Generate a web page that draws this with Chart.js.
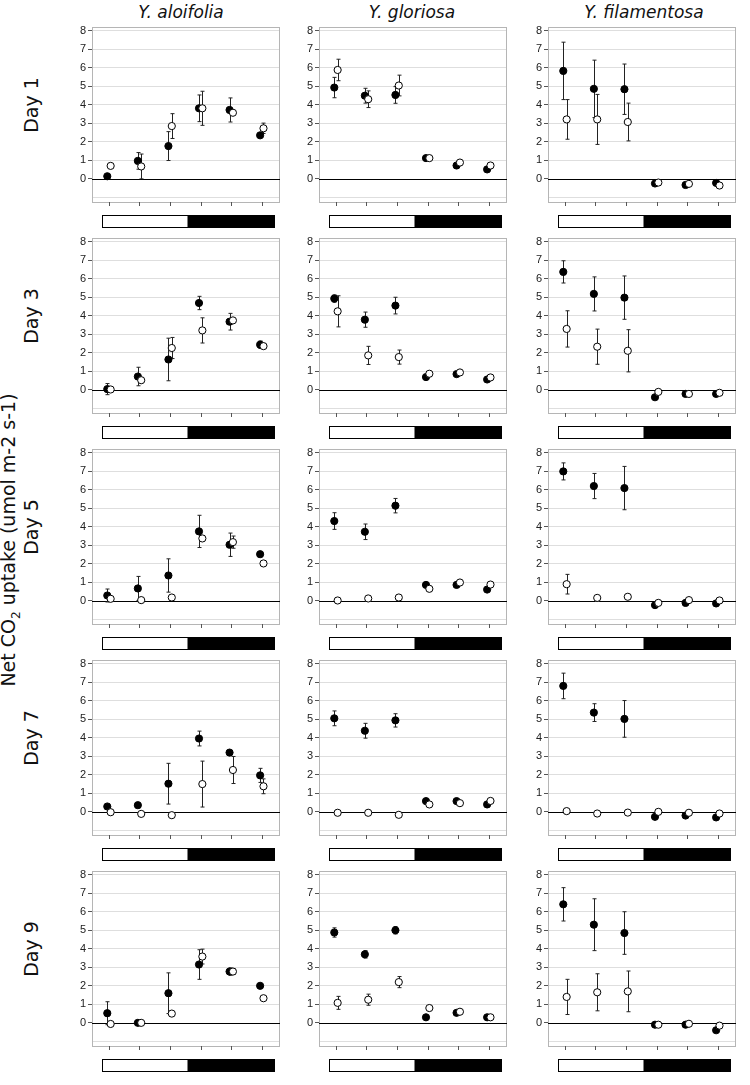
<!DOCTYPE html>
<html>
<head>
<meta charset="utf-8">
<script src="https://cdn.jsdelivr.net/npm/chart.js@4.4.1/dist/chart.umd.min.js"></script>
<style>
  body { margin: 0; background: #fff; }
  #wrap { position: relative; width: 750px; height: 1085px; overflow: hidden; font-family: "DejaVu Sans", Verdana, sans-serif; }
  canvas { position: absolute; }
  .lbl { position: absolute; white-space: nowrap; color: #111; }
  .rot { transform: translate(-50%, -50%) rotate(-90deg); }
  .ttl { transform: translate(-50%, 0); font-style: italic; font-size: 17px; }
</style>
</head>
<body>
<div id="wrap"></div>
<script>
// ---- data ----
const species = ['Y. aloifolia', 'Y. gloriosa', 'Y. filamentosa'];
const days = ['Day 1', 'Day 3', 'Day 5', 'Day 7', 'Day 9'];
const timePoints = [1, 2, 3, 4, 5, 6];
const yTicks = [0, 1, 2, 3, 4, 5, 6, 7, 8];

// filled circles = one treatment, open circles = the other. rows = days
const aloFilled = [
  [0.14, 0.97, 1.77, 3.81, 3.72, 2.35],
  [0.04, 0.72, 1.64, 4.69, 3.68, 2.44],
  [0.29, 0.67, 1.37, 3.75, 3.03, 2.52],
  [0.29, 0.36, 1.52, 3.96, 3.20, 1.97],
  [0.52, 0.00, 1.60, 3.15, 2.77, 2.00]
];
const aloFilledErr = [
  [0, 0.45, 0.78, 0.72, 0.65, 0.1],
  [0.3, 0.5, 1.15, 0.36, 0.45, 0.2],
  [0.35, 0.65, 0.9, 0.87, 0.63, 0],
  [0, 0, 1.1, 0.4, 0, 0.38],
  [0.62, 0, 1.1, 0.8, 0.2, 0]
];
const aloOpen = [
  [0.70, 0.67, 2.85, 3.81, 3.57, 2.73],
  [0.02, 0.52, 2.26, 3.21, 3.75, 2.36],
  [0.11, 0.04, 0.18, 3.37, 3.17, 2.02],
  [-0.02, -0.11, -0.18, 1.50, 2.26, 1.38],
  [-0.06, 0.00, 0.50, 3.58, 2.77, 1.33]
];
const aloOpenErr = [
  [0, 0.67, 0.67, 0.92, 0, 0.28],
  [0, 0, 0.57, 0.68, 0, 0],
  [0, 0, 0, 0, 0.33, 0],
  [0, 0, 0, 1.24, 0.73, 0.4],
  [0, 0, 0, 0.4, 0.15, 0]
];

const gloFilled = [
  [4.93, 4.49, 4.53, 1.12, 0.72, 0.51],
  [4.93, 3.79, 4.55, 0.69, 0.85, 0.56],
  [4.31, 3.73, 5.14, 0.86, 0.86, 0.61],
  [5.05, 4.38, 4.94, 0.58, 0.58, 0.40],
  [4.88, 3.70, 5.00, 0.30, 0.54, 0.30]
];
const gloFilledErr = [
  [0.55, 0.4, 0.45, 0, 0, 0],
  [0.2, 0.41, 0.45, 0, 0, 0],
  [0.45, 0.42, 0.39, 0, 0, 0],
  [0.4, 0.4, 0.36, 0, 0, 0],
  [0.25, 0.2, 0.2, 0, 0, 0]
];
const gloOpen = [
  [5.88, 4.30, 5.04, 1.12, 0.88, 0.72],
  [4.24, 1.86, 1.77, 0.87, 0.94, 0.67],
  [0.02, 0.13, 0.18, 0.65, 0.99, 0.88],
  [-0.05, -0.05, -0.16, 0.40, 0.47, 0.59],
  [1.08, 1.25, 2.20, 0.80, 0.60, 0.30]
];
const gloOpenErr = [
  [0.58, 0.45, 0.56, 0, 0, 0],
  [0.84, 0.49, 0.38, 0, 0, 0],
  [0, 0, 0, 0, 0, 0],
  [0, 0, 0, 0, 0, 0],
  [0.35, 0.3, 0.3, 0, 0, 0]
];

const filFilled = [
  [5.83, 4.86, 4.84, -0.25, -0.33, -0.22],
  [6.37, 5.18, 4.98, -0.40, -0.22, -0.22],
  [6.99, 6.20, 6.09, -0.23, -0.11, -0.14],
  [6.80, 5.36, 5.02, -0.27, -0.20, -0.30],
  [6.40, 5.30, 4.85, -0.10, -0.10, -0.40]
];
const filFilledErr = [
  [1.55, 1.55, 1.36, 0, 0, 0],
  [0.6, 0.92, 1.17, 0, 0, 0],
  [0.46, 0.68, 1.17, 0, 0, 0],
  [0.69, 0.48, 0.99, 0, 0, 0],
  [0.9, 1.4, 1.15, 0, 0, 0]
];
const filOpen = [
  [3.21, 3.21, 3.07, -0.20, -0.27, -0.36],
  [3.29, 2.33, 2.11, -0.11, -0.22, -0.16],
  [0.90, 0.16, 0.22, -0.11, 0.04, 0.02],
  [0.04, -0.09, -0.04, 0.00, -0.05, -0.09],
  [1.40, 1.65, 1.70, -0.10, -0.05, -0.15]
];
const filOpenErr = [
  [1.07, 1.35, 1.02, 0, 0, 0],
  [0.98, 0.95, 1.14, 0, 0, 0],
  [0.53, 0, 0, 0, 0, 0],
  [0, 0, 0, 0, 0, 0],
  [0.95, 1.0, 1.1, 0, 0, 0]
];

const allFilled = [aloFilled, gloFilled, filFilled];
const allFilledErr = [aloFilledErr, gloFilledErr, filFilledErr];
const allOpen = [aloOpen, gloOpen, filOpen];
const allOpenErr = [aloOpenErr, gloOpenErr, filOpenErr];

// ---- layout ----
const colLeft = [92, 319, 548];
const titleX = [181, 412, 644];
const rowTop = [27, 238, 449, 660, 871];
const plotW = 190, plotH = 175;
const axisW = 32, padTop = 10, padBottom = 32, padRight = 3;

const wrap = document.getElementById('wrap');

function addLabel(text, x, y, cls, size) {
  const d = document.createElement('div');
  d.className = 'lbl ' + cls;
  d.innerHTML = text;
  d.style.left = x + 'px';
  d.style.top = y + 'px';
  if (size) d.style.fontSize = size + 'px';
  wrap.appendChild(d);
}

species.forEach((s, c) => addLabel(s, titleX[c], 2, 'ttl'));
days.forEach((d, r) => addLabel(d, 31, rowTop[r] + 78, 'rot', 19));
addLabel('Net CO<sub style="font-size:12px">2</sub> uptake (umol m-2 s-1)', 10, 540, 'rot', 19);

// border, x ticks, light/dark bar and error bars
const panelDeco = {
  id: 'panelDeco',
  beforeDatasetsDraw(chart) {
    const ctx = chart.ctx, a = chart.chartArea;
    const xs = chart.scales.x, ys = chart.scales.y;
    ctx.save();
    ctx.strokeStyle = '#b5b5b5';
    ctx.lineWidth = 1;
    ctx.strokeRect(a.left + 0.5, a.top + 0.5, a.right - a.left - 1, a.bottom - a.top);
    // zero line on top of the grid
    const y0 = Math.round(ys.getPixelForValue(0)) + 0.5;
    ctx.strokeStyle = '#000';
    ctx.beginPath(); ctx.moveTo(a.left, y0); ctx.lineTo(a.right, y0); ctx.stroke();
    // x tick marks
    ctx.strokeStyle = '#555';
    timePoints.forEach(t => {
      const x = Math.round(xs.getPixelForValue(t)) + 0.5;
      ctx.beginPath(); ctx.moveTo(x, a.bottom); ctx.lineTo(x, a.bottom + 4); ctx.stroke();
    });
    // light / dark bar
    const bx0 = Math.round(xs.getPixelForValue(0.77)) + 0.5;
    const bx1 = Math.round(xs.getPixelForValue(3.56)) + 0.5;
    const bx2 = Math.round(xs.getPixelForValue(6.42)) + 0.5;
    const by = a.bottom + 13.5;
    ctx.fillStyle = '#000';
    ctx.fillRect(bx1, by, bx2 - bx1, 12);
    ctx.strokeStyle = '#000';
    ctx.strokeRect(bx0, by, bx2 - bx0, 12);
    // error bars
    ctx.strokeStyle = '#222';
    chart.data.datasets.forEach((ds, i) => {
      const meta = chart.getDatasetMeta(i);
      meta.data.forEach((pt, j) => {
        const e = ds.errors[j];
        if (!e) return;
        const v = ds.data[j].y;
        const x = Math.round(pt.x) + 0.5;
        const yt = ys.getPixelForValue(v + e), yb = ys.getPixelForValue(v - e);
        ctx.beginPath();
        ctx.moveTo(x, yt); ctx.lineTo(x, yb);
        ctx.moveTo(x - 2, yt); ctx.lineTo(x + 2, yt);
        ctx.moveTo(x - 2, yb); ctx.lineTo(x + 2, yb);
        ctx.stroke();
      });
    });
    ctx.restore();
  }
};

function makePanel(c, r) {
  const cv = document.createElement('canvas');
  const w = axisW + plotW + padRight, h = padTop + plotH + padBottom;
  cv.width = w; cv.height = h;
  cv.style.left = (colLeft[c] - axisW) + 'px';
  cv.style.top = (rowTop[r] - padTop) + 'px';
  cv.style.width = w + 'px'; cv.style.height = h + 'px';
  wrap.appendChild(cv);

  const filled = allFilled[c][r], open = allOpen[c][r];
  new Chart(cv.getContext('2d'), {
    type: 'scatter',
    data: {
      datasets: [
        {
          label: 'open',
          data: timePoints.map((t, i) => ({ x: t + 0.06, y: open[i] })),
          errors: allOpenErr[c][r],
          backgroundColor: '#fff', borderColor: '#000', borderWidth: 1, pointRadius: 3.6
        },
        {
          label: 'filled',
          data: timePoints.map((t, i) => ({ x: t - 0.05, y: filled[i] })),
          errors: allFilledErr[c][r],
          backgroundColor: '#000', borderColor: '#000', borderWidth: 1, pointRadius: 3.6
        }
      ]
    },
    options: {
      responsive: false,
      animation: false,
      events: [],
      layout: { padding: { top: padTop, bottom: padBottom, right: padRight, left: 0 } },
      plugins: { legend: { display: false }, tooltip: { enabled: false } },
      scales: {
        x: { type: 'linear', min: 0.45, max: 6.6, display: false },
        y: {
          min: -1.25, max: 8.2,
          afterBuildTicks(scale) {
            const t = [];
            for (let v = -1; v <= 8; v += 0.5) t.push({ value: v });
            scale.ticks = t;
          },
          afterFit(scale) { scale.width = axisW; },
          border: { display: false },
          grid: {
            color: ctx => {
              const v = ctx.tick.value;
              if (v === 0) return 'rgba(0,0,0,0)';
              return Number.isInteger(v) ? '#dedede' : '#f0f0f0';
            },
            tickColor: ctx => (yTicks.includes(ctx.tick.value) ? '#555' : 'rgba(0,0,0,0)'),
            tickLength: 4
          },
          ticks: {
            padding: 2,
            color: '#222',
            font: { family: 'Liberation Sans, Arial, sans-serif', size: 11 },
            callback: v => (yTicks.includes(v) ? String(v) : '')
          }
        }
      }
    },
    plugins: [panelDeco]
  });
}

for (let r = 0; r < days.length; r++) {
  for (let c = 0; c < species.length; c++) makePanel(c, r);
}
</script>
</body>
</html>
